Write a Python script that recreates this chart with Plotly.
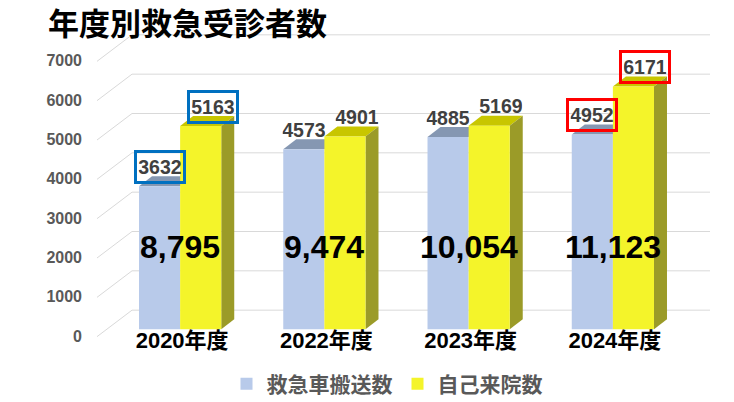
import plotly.graph_objects as go

# values
years = ["2020年度", "2022年度", "2023年度", "2024年度"]
ambulance = [3632, 4573, 4885, 4952]   # 救急車搬送数
walk_in = [5163, 4901, 5169, 6171]     # 自己来院数
y_ticks = [0, 1000, 2000, 3000, 4000, 5000, 6000, 7000]
box_colors = ["#0070C0", None, None, "#FF0000"]   # frames drawn round some labels

# page geometry (px, measured on the 734x402 page)
W, H = 734, 402
OFF = 8                 # the page body margin puts the figure at (8, 8)
ML, MR, MT, MB = 108, 49, 20, 63
Y_LO, Y_HI = -250, 7860
BAR_W = 0.285           # one bar, in category units
TOTAL_Y = 2090          # height of the big total labels

fig_w, fig_h = W - OFF, H - OFF
plot_w = W - ML - MR
plot_h = H - MT - MB
px_x = plot_w / len(years)          # px per category unit
px_y = plot_h / (Y_HI - Y_LO)       # px per data unit


def paper_x(px):
    return (px - ML) / plot_w


dx = 13 / px_x      # bar depth, horizontal
dy = 10 / px_y      # bar depth, vertical
back = 19 / px_y    # back wall offset of the grid
drop = 7.5 / px_y   # front edge of the side wall

FONT = "Liberation Sans, Noto Sans CJK JP, sans-serif"
BLUE, BLUE_TOP = "#B8CAEA", "#8597B2"
YEL, YEL_TOP, YEL_SIDE = "#F4F42A", "#C8C600", "#9B9B28"

xpos = list(range(len(years)))

fig = go.Figure()
fig.add_trace(go.Bar(x=xpos, y=ambulance, name="救急車搬送数",
                     marker=dict(color=BLUE, line=dict(width=0))))
fig.add_trace(go.Bar(x=xpos, y=walk_in, name="自己来院数",
                     marker=dict(color=YEL, line=dict(width=0))))

shapes = []
# grid on the back wall + slanted lines on the left wall
for v in y_ticks:
    shapes.append(dict(type="line", xref="paper", yref="y",
                       x0=paper_x(132), x1=paper_x(710), y0=v + back, y1=v + back,
                       line=dict(color="#D9D9D9", width=1), layer="below"))
    shapes.append(dict(type="line", xref="paper", yref="y",
                       x0=paper_x(97), x1=paper_x(132), y0=v - drop, y1=v + back,
                       line=dict(color="#D9D9D9", width=1), layer="below"))

# 3d faces of the bars
for i, (a, b) in enumerate(zip(ambulance, walk_in)):
    x0, x1 = i - BAR_W, i
    shapes.append(dict(type="path", xref="x", yref="y", layer="between",
                       path=f"M{x0},{a} L{x1},{a} L{x1 + dx},{a + dy} L{x0 + dx},{a + dy} Z",
                       fillcolor=BLUE_TOP, line=dict(width=0)))
    x0, x1 = i, i + BAR_W
    shapes.append(dict(type="path", xref="x", yref="y", layer="between",
                       path=f"M{x0},{b} L{x1},{b} L{x1 + dx},{b + dy} L{x0 + dx},{b + dy} Z",
                       fillcolor=YEL_TOP, line=dict(width=0)))
    shapes.append(dict(type="path", xref="x", yref="y", layer="between",
                       path=f"M{x1},0 L{x1},{b} L{x1 + dx},{b + dy} L{x1 + dx},{dy} Z",
                       fillcolor=YEL_SIDE, line=dict(width=0)))

annotations = []
for i, (a, b) in enumerate(zip(ambulance, walk_in)):
    for val, xc, xs in [(a, i - BAR_W / 2, 0), (b, i + BAR_W / 2, 12)]:
        col = box_colors[i]
        annotations.append(dict(
            x=xc, y=val, xref="x", yref="y", text=str(val), showarrow=False,
            xshift=xs, yshift=19.5, yanchor="middle",
            width=43, height=25, borderpad=1.5,
            borderwidth=3 if col else 0, bordercolor=col or "rgba(0,0,0,0)",
            font=dict(family=FONT, size=19.5, color="#404040", weight="bold")))
    annotations.append(dict(
        x=i, y=TOTAL_Y, xref="x", yref="y", text=f"{a + b:,}", showarrow=False,
        font=dict(family=FONT, size=32, color="black", weight="bold")))

fig.update_layout(
    width=fig_w, height=fig_h,
    margin=dict(l=ML - OFF, r=MR, t=MT - OFF, b=MB, autoexpand=False),
    paper_bgcolor="white", plot_bgcolor="white",
    barmode="group", bargap=1 - 2 * BAR_W, bargroupgap=0,
    title=dict(text="年度別救急受診者数", x=(48 - OFF) / fig_w, xanchor="left",
               y=1 - (24 - OFF) / fig_h, yanchor="middle",
               font=dict(family="Noto Sans CJK JP", size=31, color="black", weight="bold")),
    xaxis=dict(range=[-0.5, len(years) - 0.5], tickvals=xpos, ticktext=years,
               showgrid=False, zeroline=False, showline=False, automargin=False,
               ticklabelstandoff=-14, ticklabelshift=2,
               tickfont=dict(family=FONT, size=22, color="black", weight="bold")),
    yaxis=dict(range=[Y_LO, Y_HI], tickvals=y_ticks, showgrid=False,
               zeroline=False, showline=False, automargin=False,
               ticklabelstandoff=25, ticklabelshift=7,
               tickfont=dict(family=FONT, size=16, color="#595959", weight="bold")),
    legend=dict(orientation="h", x=paper_x(387), xanchor="center",
                y=-45 / plot_h, yanchor="middle",
                font=dict(family=FONT, size=21, color="#595959", weight="bold")),
    shapes=shapes,
    annotations=annotations,
)

fig.write_html("out.html")
